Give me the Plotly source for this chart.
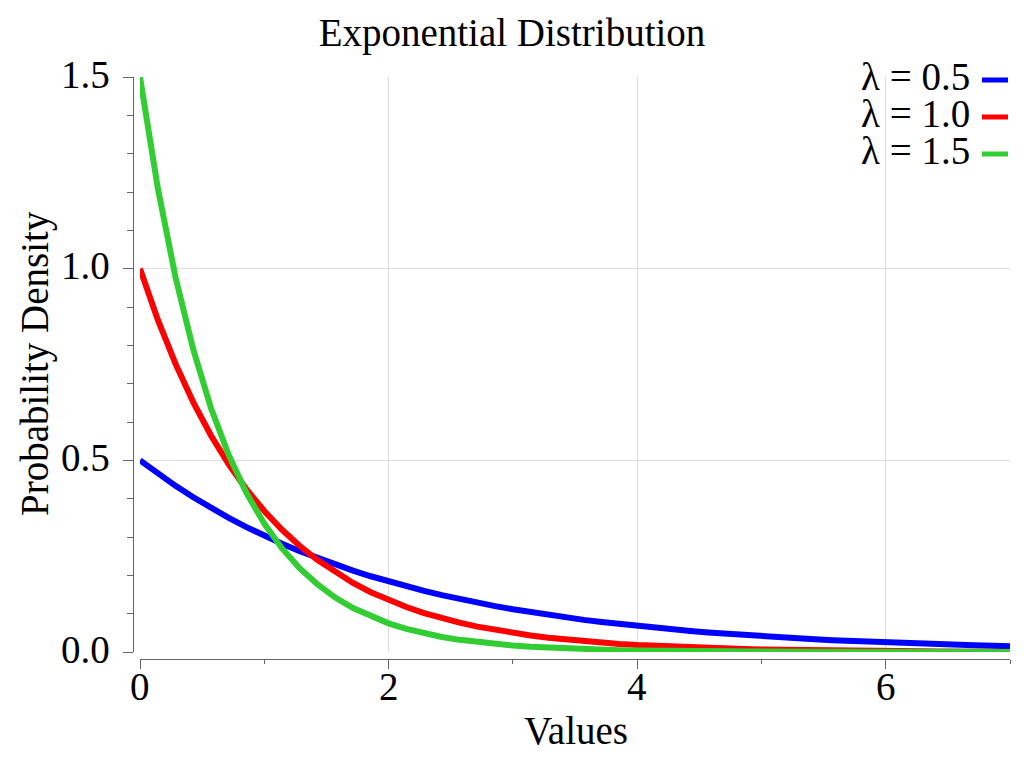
import plotly.graph_objects as go

# ---- data ----
x_values = [0.000, 0.143, 0.286, 0.429, 0.571, 0.714, 0.857, 1.000, 1.143, 1.286,
            1.429, 1.571, 1.714, 1.857, 2.000, 2.143, 2.286, 2.429, 2.571, 2.714,
            2.857, 3.000, 3.143, 3.286, 3.429, 3.571, 3.714, 3.857, 4.000, 4.143,
            4.286, 4.429, 4.571, 4.714, 4.857, 5.000, 5.143, 5.286, 5.429, 5.571,
            5.714, 5.857, 6.000, 6.143, 6.286, 6.429, 6.571, 6.714, 6.857, 7.000]

density_l05 = [0.5000, 0.4655, 0.4334, 0.4036, 0.3757, 0.3498, 0.3257, 0.3033, 0.2824, 0.2629,
               0.2448, 0.2279, 0.2122, 0.1976, 0.1839, 0.1713, 0.1595, 0.1485, 0.1382, 0.1287,
               0.1198, 0.1116, 0.1039, 0.0967, 0.0900, 0.0838, 0.0781, 0.0727, 0.0677, 0.0630,
               0.0587, 0.0546, 0.0509, 0.0473, 0.0441, 0.0410, 0.0382, 0.0356, 0.0331, 0.0308,
               0.0287, 0.0267, 0.0249, 0.0232, 0.0216, 0.0201, 0.0187, 0.0174, 0.0162, 0.0151]

density_l10 = [1.0000, 0.8669, 0.7515, 0.6514, 0.5647, 0.4895, 0.4244, 0.3679, 0.3189, 0.2765,
               0.2397, 0.2077, 0.1801, 0.1561, 0.1353, 0.1173, 0.1017, 0.0882, 0.0764, 0.0663,
               0.0574, 0.0498, 0.0432, 0.0374, 0.0324, 0.0281, 0.0244, 0.0211, 0.0183, 0.0159,
               0.0138, 0.0119, 0.0103, 0.0090, 0.0078, 0.0067, 0.0058, 0.0051, 0.0044, 0.0038,
               0.0033, 0.0029, 0.0025, 0.0021, 0.0019, 0.0016, 0.0014, 0.0012, 0.0011, 0.0009]

density_l15 = [1.5000, 1.2107, 0.9772, 0.7887, 0.6366, 0.5138, 0.4147, 0.3347, 0.2701, 0.2180,
               0.1760, 0.1420, 0.1146, 0.0925, 0.0747, 0.0603, 0.0487, 0.0393, 0.0317, 0.0256,
               0.0206, 0.0167, 0.0134, 0.0109, 0.0088, 0.0071, 0.0057, 0.0046, 0.0037, 0.0030,
               0.0024, 0.0020, 0.0016, 0.0013, 0.0010, 0.0008, 0.0007, 0.0005, 0.0004, 0.0004,
               0.0003, 0.0002, 0.0002, 0.0001, 0.0001, 0.0001, 0.0001, 0.0001, 0.0001, 0.0000]

series_names = ["λ = 0.5", "λ = 1.0", "λ = 1.5"]
series_values = [density_l05, density_l10, density_l15]
series_colors = ["#0000ff", "#ff0000", "#32cd32"]

x_tick_values = [0, 2, 4, 6]
x_tick_labels = ["0", "2", "4", "6"]
y_tick_values = [0.0, 0.5, 1.0, 1.5]
y_tick_labels = ["0.0", "0.5", "1.0", "1.5"]

title_text = "Exponential Distribution"
x_title = "Values"
y_title = "Probability Density"

# ---- layout geometry (pixels) ----
W, H = 1024, 768
M_L, M_R, M_T, M_B = 133, 14, 77, 109
PW = W - M_L - M_R
PH = H - M_T - M_B
OFF = 7  # axis offset from plot area
FS = 39


def px_x(px):
    return (px - M_L) / PW


def px_y(py):
    return (H - M_B - py) / PH


FONT = "Liberation Serif, Times New Roman, serif"
AX_COLOR = "#666666"
GRID = "#dcdcdc"
TXT = dict(family=FONT, size=FS, color="black")

fig = go.Figure()
for name, vals, col in zip(series_names, series_values, series_colors):
    fig.add_trace(go.Scatter(x=x_values, y=vals, mode="lines", name=name,
                             line=dict(color=col, width=6), showlegend=False))

fig.update_layout(
    width=W, height=H,
    margin=dict(l=M_L, r=M_R, t=M_T, b=M_B, pad=0),
    paper_bgcolor="white", plot_bgcolor="white",
    font=TXT,
    title=dict(text=title_text, x=0.5, xref="container", xanchor="center",
               y=1 - 32 / H, yref="container", yanchor="middle", font=TXT),
    xaxis=dict(domain=[OFF / PW, 1], range=[0, 7], anchor="free", position=0,
               showline=True, linecolor=AX_COLOR, linewidth=1,
               ticks="outside", ticklen=9, tickwidth=1, tickcolor=AX_COLOR,
               tickmode="array", tickvals=x_tick_values, showticklabels=False,
               minor=dict(dtick=1, tick0=0, ticks="outside", ticklen=4,
                          tickcolor=AX_COLOR, showgrid=False),
               showgrid=True, gridcolor=GRID, gridwidth=1, zeroline=False),
    yaxis=dict(domain=[OFF / PH, 1], range=[0, 1.5], anchor="free", position=0,
               showline=True, linecolor=AX_COLOR, linewidth=1,
               ticks="outside", ticklen=10, tickwidth=1, tickcolor=AX_COLOR,
               tickmode="array", tickvals=y_tick_values, showticklabels=False,
               minor=dict(dtick=0.1, tick0=0, ticks="outside", ticklen=6,
                          tickcolor=AX_COLOR, showgrid=False),
               showgrid=True, gridcolor=GRID, gridwidth=1, zeroline=False),
)

# tick labels
for v, t in zip(x_tick_values, x_tick_labels):
    fig.add_annotation(text=t, x=v, xref="x", y=px_y(686.5), yref="paper",
                       xanchor="center", yanchor="middle", showarrow=False, font=TXT)
for v, t in zip(y_tick_values, y_tick_labels):
    fig.add_annotation(text=t, x=px_x(112), xref="paper", y=v, yref="y", yshift=3,
                       xanchor="right", yanchor="middle", showarrow=False, font=TXT)

# axis titles
fig.add_annotation(text=x_title, x=px_x(576), y=px_y(730), xref="paper", yref="paper",
                   xanchor="center", yanchor="middle", showarrow=False, font=TXT)
fig.add_annotation(text=y_title, x=px_x(35), y=px_y(364), xref="paper", yref="paper",
                   xanchor="center", yanchor="middle", showarrow=False, textangle=-90,
                   font=TXT)

# legend (text on the left, line sample on the right)
leg_rows = [80, 117, 154]
for name, col, ly in zip(series_names, series_colors, leg_rows):
    fig.add_annotation(text=name, x=px_x(972), y=px_y(ly - 4), xref="paper", yref="paper",
                       xanchor="right", yanchor="middle", showarrow=False, height=34,
                       font=TXT)
    fig.add_shape(type="line", xref="paper", yref="paper",
                  x0=px_x(982), x1=px_x(1008), y0=px_y(ly), y1=px_y(ly),
                  line=dict(color=col, width=5))

fig.write_html("out.html")
